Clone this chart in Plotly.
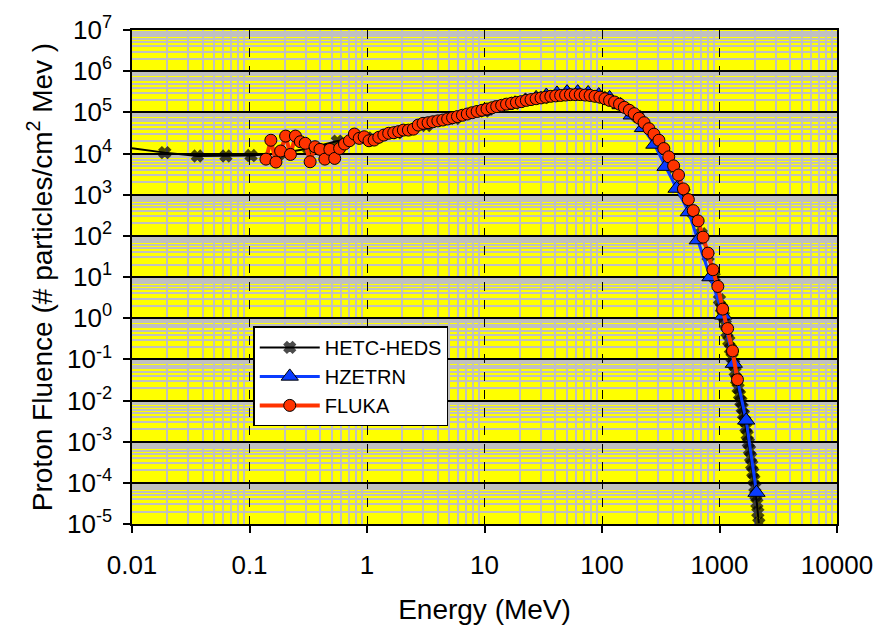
import plotly.graph_objects as go

# ---------------- data ----------------
hetc_energy = [0.01, 0.019, 0.036, 0.063, 0.103, 0.18, 0.32, 0.56, 1.0, 1.8, 3.2, 5.6, 10, 18, 32, 56,
               100, 200, 300, 400, 500, 600, 700, 800, 900,
               1000, 1040, 1080, 1120, 1160, 1200, 1240, 1280, 1320, 1360, 1400, 1440, 1480, 1520,
               1560, 1600, 1640, 1680, 1720, 1760, 1800, 1840, 1880, 1920, 1960, 2000, 2040, 2080,
               2120, 2160]
hetc_fluence = [1.35e4, 1.05e4, 8.7e3, 8.7e3, 8.9e3, 1.0e4, 1.32e4, 2.0e4, 2.4e4, 3.2e4, 4.8e4, 7.1e4,
                1.07e5, 1.66e5, 2.3e5, 2.7e5,
                2.34e5, 7.9e4, 2.0e4, 4.5e3, 1.12e3, 355, 112, 32, 10,
                2.8, 1.78, 1.12, 0.71, 0.45, 0.28, 0.18, 0.11, 0.076, 0.05, 0.032, 0.02, 0.0138, 9.5e-3,
                6.6e-3, 4.6e-3, 3.2e-3, 2.2e-3, 1.45e-3, 9.5e-4, 6.3e-4, 4.2e-4, 2.75e-4, 1.8e-4,
                1.2e-4, 7.9e-5, 5.0e-5, 3.2e-5, 1.9e-5, 1.05e-5]

hzetrn_energy = [9.82, 12.1, 14.8, 18.2, 22.3, 27.5, 33.6, 41.4, 50.4, 62.1, 76.2, 93.8, 116, 144, 179,
                 223, 279, 347, 431, 548, 653, 837, 1076, 1324, 1687, 2065]
hzetrn_fluence = [1.07e5, 1.26e5, 1.45e5, 1.66e5, 1.95e5, 2.24e5, 2.57e5, 2.88e5, 3.1e5, 3.1e5, 2.95e5,
                  2.63e5, 2.24e5, 1.51e5, 8.5e4, 4.2e4, 1.66e4, 4.8e3, 1.41e3, 380, 79, 10, 1.17,
                  0.079, 3.3e-3, 5.8e-5]

fluka_energy = [0.138, 0.152, 0.168, 0.184, 0.203, 0.223, 0.246, 0.271, 0.298, 0.328, 0.361, 0.398,
                0.438, 0.483, 0.531, 0.585, 0.644, 0.709, 0.781, 0.859, 0.946, 1.04, 1.15, 1.26,
                1.39, 1.53, 1.69, 1.86, 2.04, 2.25, 2.48, 2.73, 3.00, 3.31, 3.64, 4.01, 4.42, 4.86,
                5.35, 5.89, 6.49, 7.14, 7.86, 8.66, 9.53, 10.5, 11.6, 12.7, 14.0, 15.4, 17.0, 18.7,
                20.6, 22.7, 24.9, 27.5, 30.3, 33.3, 36.7, 40.4, 44.5, 49.0, 53.9, 59.3, 65.3, 71.9,
                79.2, 87.2, 96.0, 106, 116, 128, 141, 155, 171, 188, 207, 228, 251, 277, 305, 336,
                370, 407, 448, 493, 543, 598, 658, 725, 798, 879, 968, 1065, 1173, 1291, 1422]
fluka_fluence = [7.3e3, 2.1e4, 6.2e3, 1.15e4, 2.65e4, 9.5e3, 2.65e4, 1.93e4, 1.77e4, 6.3e3, 1.46e4,
                 1.26e4, 7.3e3, 1.26e4, 7.6e3, 1.33e4, 1.7e4, 2.04e4, 2.97e4, 2.33e4, 2.55e4, 2.04e4,
                 2.12e4, 2.47e4, 2.8e4, 3.1e4, 3.2e4, 3.4e4, 3.7e4, 3.7e4, 3.9e4, 4.9e4, 5.4e4, 5.6e4,
                 5.9e4, 6.2e4, 6.5e4, 6.9e4, 7.4e4, 7.9e4, 8.5e4, 9.1e4, 9.8e4, 1.05e5, 1.12e5, 1.2e5,
                 1.29e5, 1.38e5, 1.48e5, 1.58e5, 1.66e5, 1.74e5, 1.82e5, 1.95e5, 2.04e5, 2.14e5,
                 2.24e5, 2.34e5, 2.45e5, 2.51e5, 2.57e5, 2.63e5, 2.69e5, 2.69e5, 2.69e5, 2.63e5,
                 2.57e5, 2.45e5, 2.34e5, 2.14e5, 1.95e5, 1.78e5, 1.58e5, 1.32e5, 1.12e5, 9.3e4, 7.2e4,
                 5.6e4, 4.0e4, 2.95e4, 2.1e4, 1.32e4, 8.3e3, 5.0e3, 3.0e3, 1.38e3, 760, 410, 230, 93,
                 38, 15, 5.9, 1.66, 0.56, 0.16, 0.032]

x_tick_vals = [0.01, 0.1, 1, 10, 100, 1000, 10000]
x_tick_text = ["0.01", "0.1", "1", "10", "100", "1000", "10000"]
y_exponents = [-5, -4, -3, -2, -1, 0, 1, 2, 3, 4, 5, 6, 7]

# ---------------- figure ----------------
FONT = "Liberation Sans, Arial, sans-serif"

fig = go.Figure()

hetc_sizes = [0] + [10] * (len(hetc_energy) - 1)
fig.add_trace(go.Scatter(
    x=hetc_energy, y=hetc_fluence, mode="lines+markers", name="HETC-HEDS",
    line=dict(color="black", width=2),
    marker=dict(symbol="x", size=hetc_sizes, color="black", line=dict(width=1.5, color="black")),
))
fig.add_trace(go.Scatter(
    x=hzetrn_energy, y=hzetrn_fluence, mode="lines+markers", name="HZETRN",
    line=dict(color="#0A3CFF", width=3),
    marker=dict(symbol="triangle-up", size=15, color="#0A3CFF", line=dict(color="black", width=1)),
))
fig.add_trace(go.Scatter(
    x=fluka_energy, y=fluka_fluence, mode="lines+markers", name="FLUKA",
    line=dict(color="#FF3300", width=4),
    marker=dict(symbol="circle", size=12, color="#FF3300", line=dict(color="black", width=1)),
))

x_minor = [m * 10.0 ** k for k in range(-2, 4) for m in range(2, 10)]
y_minor = [m * 10.0 ** k for k in range(-5, 7) for m in range(2, 10)]

fig.update_layout(
    width=880, height=629,
    margin=dict(l=132, r=43, t=30, b=105),
    paper_bgcolor="white",
    plot_bgcolor="#FFFF00",
    font=dict(family=FONT, color="black"),
    showlegend=True,
    legend=dict(
        x=0.172, y=0.40, xanchor="left", yanchor="top",
        bgcolor="white", bordercolor="black", borderwidth=1.5,
        font=dict(family=FONT, size=20, color="black"),
        tracegroupgap=0, itemsizing="trace", itemwidth=60,
    ),
)

fig.update_xaxes(
    type="log", range=[-2, 4], automargin=False,
    tickmode="array", tickvals=x_tick_vals, ticktext=x_tick_text,
    tickfont=dict(size=26, family=FONT), ticks="outside", ticklen=7, tickwidth=1.5, tickcolor="black",
    ticklabelstandoff=10,
    showgrid=True, gridcolor="black", gridwidth=1, griddash="dash",
    minor=dict(tickvals=x_minor, showgrid=True, gridcolor="#C0C0C0", gridwidth=1.5,
               griddash="solid", ticks=""),
    showline=True, linecolor="black", linewidth=1.5, mirror=True,
    zeroline=False,
    title=dict(text="Energy (MeV)", font=dict(size=28, family=FONT), standoff=20),
)
fig.update_yaxes(
    type="log", range=[-5, 7], automargin=False,
    tickmode="array", tickvals=[10.0 ** e for e in y_exponents],
    ticktext=["10<sup>%d</sup>" % e for e in y_exponents],
    tickfont=dict(size=26, family=FONT), ticks="outside", ticklen=7, tickwidth=1.5, tickcolor="black",
    ticklabelstandoff=6,
    showgrid=True, gridcolor="black", gridwidth=1.5,
    minor=dict(tickvals=y_minor, showgrid=True, gridcolor="#C0C0C0", gridwidth=1.5,
               griddash="solid", ticks=""),
    showline=True, linecolor="black", linewidth=1.5, mirror=True,
    zeroline=False,
    title=dict(text="Proton Fluence (# particles/cm<sup>2</sup> Mev )", font=dict(size=28, family=FONT),
               standoff=6),
)

fig.write_html("out.html")
